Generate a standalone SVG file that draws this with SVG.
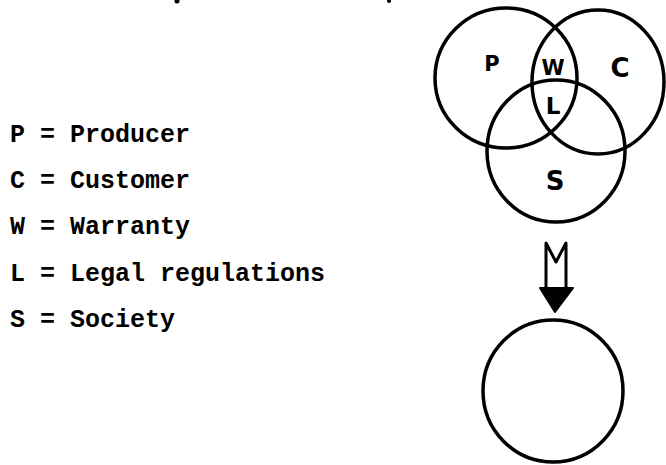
<svg xmlns="http://www.w3.org/2000/svg" width="666" height="465" viewBox="0 0 666 465">
<style>
.c{fill:none;stroke:#000;stroke-width:3.5}
.lg{font-family:"Liberation Mono",monospace;font-size:25px;font-weight:bold;fill:#000}
.lb{font-family:"DejaVu Sans",sans-serif;font-weight:bold;fill:#000;text-anchor:middle}
</style>
<rect width="666" height="465" fill="#fff"/>
<g id="legend">
<text class="lg" x="10" y="142">P = Producer</text>
<text class="lg" x="10" y="188">C = Customer</text>
<text class="lg" x="10" y="234">W = Warranty</text>
<text class="lg" x="10" y="281">L = Legal regulations</text>
<text class="lg" x="10" y="327">S = Society</text>
</g>
<g id="venn">
<g id="P"><ellipse class="c" cx="506" cy="78" rx="71" ry="70"/><text class="lb" x="492" y="71" font-size="21">P</text></g>
<g id="C"><ellipse class="c" cx="598" cy="82" rx="66" ry="72"/><text class="lb" x="620" y="77" font-size="26">C</text></g>
<g id="S"><ellipse class="c" cx="556" cy="151" rx="69" ry="71"/><text class="lb" x="555" y="190" font-size="26">S</text></g>
<text class="lb" x="553" y="75" font-size="21">W</text>
<text class="lb" x="553" y="114" font-size="23">L</text>
</g>
<g id="connectors">
<path d="M546,288 V243 L556,262 L566,243 V288" fill="none" stroke="#000" stroke-width="3" stroke-linejoin="round"/>
<path d="M540,288 L573,288 L555,312 Z" fill="#000" stroke="#000" stroke-width="2" stroke-linejoin="round"/>
</g>
<g id="result"><ellipse class="c" cx="553" cy="391" rx="70" ry="71"/></g>
<circle cx="177" cy="1" r="2.5" fill="#000"/>
<circle cx="389" cy="1" r="2" fill="#000"/>
</svg>
